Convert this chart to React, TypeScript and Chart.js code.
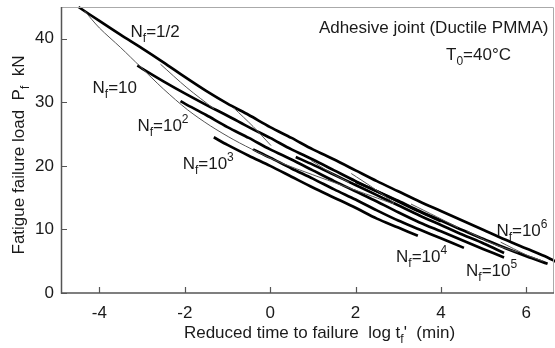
import React, { useEffect, useRef } from "react";
import { Chart, registerables } from "chart.js";

Chart.register(...registerables);

// ---- axis settings ----
const xTickValues = [-4, -2, 0, 2, 4, 6];
const yTickValues = [0, 10, 20, 30, 40];
const X_MIN = -4.9;
const X_MAX = 6.65;
const Y_MIN = 0;
const Y_MAX = 45;

// ---- thick curves (log t_f', P_f) ----
const curveHalfX = [-4.49, -4, -3.5, -3, -2.5, -2, -1.5, -1, -0.5, 0, 0.5, 1, 1.5, 2, 2.5, 3, 3.5, 4, 4.5, 5, 5.5, 6, 6.5, 6.7];
const curveHalfY = [45.0, 42.8, 40.6, 38.5, 36.3, 34.0, 31.8, 29.8, 28.0, 26.1, 24.4, 22.6, 21.0, 19.3, 17.6, 16.0, 14.4, 12.9, 11.4, 9.9, 8.4, 7.0, 5.6, 4.9];

const curve10X = [-3.11, -3, -2.5, -2, -1.5, -1, -0.5, 0, 0.5, 1, 1.5, 2, 2.5, 3, 3.5, 4];
const curve10Y = [35.8, 35.3, 33.3, 31.4, 29.6, 27.9, 26.1, 24.4, 22.6, 21.0, 19.3, 17.6, 16.0, 14.4, 12.8, 11.3];

const curve100X = [-2.1, -2, -1.5, -1, -0.5, 0, 0.5, 1, 1.5, 2, 2.5, 3, 3.5, 4, 4.5, 5, 5.48];
const curve100Y = [30.2, 29.8, 28.0, 26.1, 24.4, 22.6, 21.0, 19.3, 17.6, 16.0, 14.4, 12.7, 11.1, 9.7, 8.3, 6.9, 5.6];

const curve1e3X = [-1.32, -1, -0.5, 0, 0.5, 1, 1.5, 2, 2.5, 3, 3.46];
const curve1e3Y = [24.5, 23.3, 21.6, 20.0, 18.3, 16.6, 15.0, 13.4, 11.7, 10.3, 9.0];

const curve1e4X = [-0.4, 0, 0.5, 1, 1.5, 2, 2.5, 3, 3.5, 4, 4.54];
const curve1e4Y = [22.6, 21.3, 19.6, 18.0, 16.3, 14.7, 13.0, 11.4, 10.0, 8.6, 7.1];

const curve1e5X = [0.6, 1, 1.5, 2, 2.5, 3, 3.5, 4, 4.5, 5, 5.48];
const curve1e5Y = [21.4, 20.2, 18.6, 17.0, 15.4, 13.8, 12.2, 10.7, 9.2, 7.8, 6.3];

const curve1e6X = [2.0, 2.5, 3, 3.5, 4, 4.5, 5, 5.5, 6, 6.5];
const curve1e6Y = [17.5, 16.0, 14.5, 12.9, 11.4, 9.9, 8.5, 7.1, 5.8, 4.6];

// ---- thin curves ----
const thinMainX = [-4.35, -4.0, -3.5, -3.04, -2.5, -1.93, -1.4, -0.85, -0.3, 0.25, 1.0, 1.7, 2.4, 2.9];
const thinMainY = [44.4, 41.7, 38.6, 35.6, 32.1, 28.8, 26.3, 24.1, 22.2, 20.5, 18.6, 16.9, 15.2, 14.0];
const thinAX = [-2.57, -1.95, -1.32];
const thinAY = [36.0, 32.3, 29.0];
const thinBX = [-0.85, -0.4, 0.02];
const thinBY = [29.1, 26.2, 23.2];
const thinCX = [0.95, 1.4, 1.85];
const thinCY = [20.9, 19.0, 17.4];
const thinDX = [1.9, 2.4, 2.9];
const thinDY = [18.8, 16.6, 14.2];
const thinEX = [3.3, 3.9, 4.4];
const thinEY = [14.0, 12.0, 10.3];
const thinFX = [4.6, 5.2, 5.8];
const thinFY = [9.8, 7.8, 6.4];
const thinGX = [5.4, 6.0, 6.4];
const thinGY = [8.0, 6.0, 5.0];

// ---- curve labels ----
const labelSup = ["", "", "2", "3", "4", "5", "6"];
const labelBase = ["=1/2", "=10", "=10", "=10", "=10", "=10", "=10"];
const labelX = [-3.27, -4.16, -3.11, -2.05, 2.95, 4.59, 5.3];
const labelY = [40.3, 31.5, 25.5, 19.5, 4.9, 2.7, 9.0];

const FONT = "'Liberation Sans', Arial, Helvetica, sans-serif";
const FS = 17;

type Part = { t: string; k: "n" | "sub" | "sup" };

function partsWidth(ctx: CanvasRenderingContext2D, parts: Part[], base: number) {
  let w = 0;
  for (const p of parts) {
    const size = p.k === "n" ? base : Math.round(base * 0.68);
    ctx.font = `${size}px ${FONT}`;
    w += ctx.measureText(p.t).width;
  }
  return w;
}

function drawParts(ctx: CanvasRenderingContext2D, parts: Part[], x: number, y: number, base: number) {
  let cx = x;
  for (const p of parts) {
    const size = p.k === "n" ? base : Math.round(base * 0.68);
    ctx.font = `${size}px ${FONT}`;
    const dy = p.k === "sub" ? base * 0.28 : p.k === "sup" ? -base * 0.45 : 0;
    ctx.fillText(p.t, cx, y + dy);
    cx += ctx.measureText(p.t).width;
  }
}

function toXY(xs: number[], ys: number[]) {
  return xs.map((x, i) => ({ x, y: ys[i] }));
}

const decorPlugin = {
  id: "decor",
  afterDatasetsDraw(chart: any) {
    const { ctx, chartArea, scales } = chart;
    const xs = scales.x;
    const ys = scales.y;
    ctx.save();
    ctx.strokeStyle = "#aaa";
    ctx.lineWidth = 1;
    ctx.beginPath();
    ctx.moveTo(chartArea.left, chartArea.top + 0.5);
    ctx.lineTo(chartArea.right - 0.5, chartArea.top + 0.5);
    ctx.lineTo(chartArea.right - 0.5, chartArea.bottom);
    ctx.stroke();
    ctx.strokeStyle = "#555";
    ctx.lineWidth = 1.5;
    ctx.beginPath();
    ctx.moveTo(chartArea.left + 0.5, chartArea.top);
    ctx.lineTo(chartArea.left + 0.5, chartArea.bottom);
    ctx.lineTo(chartArea.right, chartArea.bottom);
    ctx.stroke();
    ctx.lineWidth = 1.2;
    ctx.beginPath();
    for (const v of xTickValues) {
      const px = Math.round(xs.getPixelForValue(v)) + 0.5;
      ctx.moveTo(px, chartArea.bottom);
      ctx.lineTo(px, chartArea.bottom - 6);
    }
    for (const v of yTickValues) {
      const py = Math.round(ys.getPixelForValue(v)) + 0.5;
      ctx.moveTo(chartArea.left, py);
      ctx.lineTo(chartArea.left + 6, py);
    }
    ctx.stroke();

    ctx.fillStyle = "#1a1a1a";
    ctx.textBaseline = "alphabetic";
    ctx.textAlign = "left";
    for (let i = 0; i < labelBase.length; i++) {
      const parts: Part[] = [
        { t: "N", k: "n" },
        { t: "f", k: "sub" },
        { t: labelBase[i], k: "n" },
      ];
      if (labelSup[i]) parts.push({ t: labelSup[i], k: "sup" });
      drawParts(ctx, parts, xs.getPixelForValue(labelX[i]), ys.getPixelForValue(labelY[i]), FS);
    }
    const t1: Part[] = [{ t: "Adhesive joint (Ductile PMMA)", k: "n" }];
    const w1 = partsWidth(ctx, t1, FS);
    drawParts(ctx, t1, xs.getPixelForValue(6.52) - w1, ys.getPixelForValue(40.9), FS);
    const t2: Part[] = [
      { t: "T", k: "n" },
      { t: "0", k: "sub" },
      { t: "=40\u00B0C", k: "n" },
    ];
    drawParts(ctx, t2, xs.getPixelForValue(4.12), ys.getPixelForValue(36.7), FS);

    const xt: Part[] = [
      { t: "Reduced time to failure  log t", k: "n" },
      { t: "f", k: "sub" },
      { t: "'  (min)", k: "n" },
    ];
    const wx = partsWidth(ctx, xt, FS);
    drawParts(ctx, xt, 319.5 - wx / 2, chartArea.bottom + 45, FS);

    const yt: Part[] = [
      { t: "Fatigue failure load  P", k: "n" },
      { t: "f", k: "sub" },
      { t: "  kN", k: "n" },
    ];
    const wy = partsWidth(ctx, yt, FS);
    ctx.translate(24, 155);
    ctx.rotate(-Math.PI / 2);
    drawParts(ctx, yt, -wy / 2, 0, FS);
    ctx.restore();
  },
};

export default function App() {
  const canvasRef = useRef<HTMLCanvasElement | null>(null);

  useEffect(() => {
    const canvas = canvasRef.current;
    if (!canvas) return;
    const thick = (xs: number[], ys: number[]) => ({
      data: toXY(xs, ys),
      borderColor: "#000",
      borderWidth: 2.7,
      pointRadius: 0,
      showLine: true,
      tension: 0.3,
      fill: false,
    });
    const thin = (xs: number[], ys: number[]) => ({
      data: toXY(xs, ys),
      borderColor: "#555",
      borderWidth: 1,
      pointRadius: 0,
      showLine: true,
      tension: 0.3,
      fill: false,
    });
    const chart = new Chart(canvas, {
      type: "scatter",
      data: {
        datasets: [
          thin(thinMainX, thinMainY),
          thin(thinAX, thinAY),
          thin(thinBX, thinBY),
          thin(thinCX, thinCY),
          thin(thinDX, thinDY),
          thin(thinEX, thinEY),
          thin(thinFX, thinFY),
          thin(thinGX, thinGY),
          thick(curveHalfX, curveHalfY),
          thick(curve10X, curve10Y),
          thick(curve100X, curve100Y),
          thick(curve1e3X, curve1e3Y),
          thick(curve1e4X, curve1e4Y),
          thick(curve1e5X, curve1e5Y),
          thick(curve1e6X, curve1e6Y),
        ] as any,
      },
      options: {
        responsive: false,
        animation: false,
        clip: false as any,
        layout: { padding: { top: 7, right: 1, left: 0, bottom: 0 } },
        plugins: { legend: { display: false }, tooltip: { enabled: false } },
        scales: {
          x: {
            type: "linear",
            min: X_MIN,
            max: X_MAX,
            afterBuildTicks: (s: any) => {
              s.ticks = xTickValues.map((v) => ({ value: v }));
            },
            afterFit: (s: any) => {
              s.height = 55;
              s.paddingLeft = 0;
              s.paddingRight = 0;
            },
            grid: { display: false, drawTicks: false },
            border: { display: false },
            ticks: {
              color: "#1a1a1a",
              font: { family: FONT, size: FS },
              padding: 10,
              maxRotation: 0,
              autoSkip: false,
            },
          },
          y: {
            type: "linear",
            min: Y_MIN,
            max: Y_MAX,
            afterBuildTicks: (s: any) => {
              s.ticks = yTickValues.map((v) => ({ value: v }));
            },
            afterFit: (s: any) => {
              s.width = 61;
              s.paddingTop = 0;
              s.paddingBottom = 0;
            },
            grid: { display: false, drawTicks: false },
            border: { display: false },
            ticks: {
              color: "#1a1a1a",
              font: { family: FONT, size: FS },
              padding: 7,
              autoSkip: false,
            },
          },
        },
      },
      plugins: [decorPlugin],
    });
    return () => chart.destroy();
  }, []);

  return (
    <div style={{ position: "absolute", left: 0, top: 0, width: 555, height: 348, background: "#fff" }}>
      <canvas ref={canvasRef} width={555} height={348} style={{ display: "block" }} />
    </div>
  );
}
